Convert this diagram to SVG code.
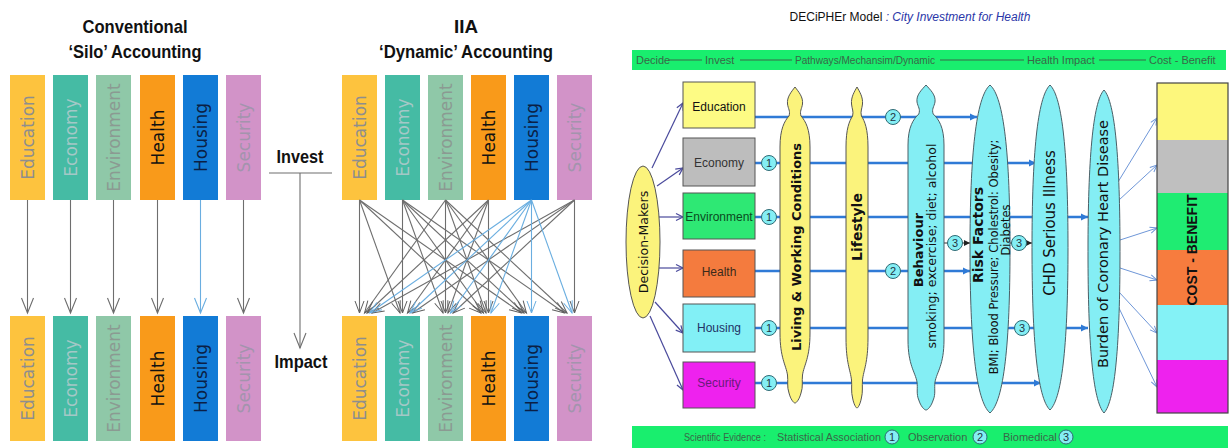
<svg xmlns="http://www.w3.org/2000/svg" width="1230" height="448" viewBox="0 0 1230 448">
  <style>
    .ttl { font-family: "Liberation Sans", Arial, sans-serif; font-weight: bold; font-size: 19px; fill: #111; }
    .bar-t { font-family: "DejaVu Sans", sans-serif; font-size: 17px; }
    .arrow-g { stroke: #6e6e6e; stroke-width: 1.1; fill: none; }
    .arrow-b { stroke: #6aaee0; stroke-width: 1.1; fill: none; }
    .hdr { font-family: "Liberation Sans", Arial, sans-serif; font-size: 11px; fill: #3a6648; }
    .box { stroke: #555; stroke-width: 1; }
    .box-t { font-family: "Liberation Sans", Arial, sans-serif; font-size: 12px; }
    .yel { fill: #fbf37c; stroke: #555; stroke-width: 1; }
    .cya { fill: #84eef4; stroke: #4a5f66; stroke-width: 1; }
    .sp-b { font-family: "DejaVu Sans", sans-serif; font-weight: bold; fill: #111; }
    .sp-r { font-family: "DejaVu Sans", sans-serif; fill: #111; }
    .row { stroke: #2f7ad6; stroke-width: 2.5; fill: none; }
    .dm { stroke: #4a4a9c; stroke-width: 1.2; fill: none; }
    .cb { stroke: #6f97d8; stroke-width: 1; fill: none; }
    .num circle { fill: #84eef4; stroke: #2e6a74; stroke-width: 1; }
    .num text { font-family: "Liberation Sans", Arial, sans-serif; font-size: 11px; fill: #234; text-anchor: middle; dominant-baseline: central; }
  </style>
  <defs>
    <marker id="chev" markerUnits="userSpaceOnUse" orient="auto" refX="0" refY="0" markerWidth="20" markerHeight="20" overflow="visible">
      <path d="M-15,-6 L0,0 L-15,6" fill="none" stroke="#6e6e6e" stroke-width="1.1"/>
    </marker>
    <marker id="chev-b" markerUnits="userSpaceOnUse" orient="auto" refX="0" refY="0" markerWidth="20" markerHeight="20" overflow="visible">
      <path d="M-15,-6 L0,0 L-15,6" fill="none" stroke="#6aaee0" stroke-width="1.1"/>
    </marker>
    <marker id="chev-s" markerUnits="userSpaceOnUse" orient="auto" refX="0" refY="0" markerWidth="20" markerHeight="20" overflow="visible">
      <path d="M-12,-4.5 L0,0 L-12,4.5" fill="none" stroke="#5e5e5e" stroke-width="1"/>
    </marker>
    <marker id="chev-sb" markerUnits="userSpaceOnUse" orient="auto" refX="0" refY="0" markerWidth="20" markerHeight="20" overflow="visible">
      <path d="M-12,-4.5 L0,0 L-12,4.5" fill="none" stroke="#6aaee0" stroke-width="1"/>
    </marker>
    <marker id="tri-blue" markerUnits="userSpaceOnUse" orient="auto" refX="0" refY="0" markerWidth="12" markerHeight="12" overflow="visible">
      <path d="M-7,-3.5 L0,0 L-7,3.5 Z" fill="#2f7ad6"/>
    </marker>
    <marker id="tri-dark" markerUnits="userSpaceOnUse" orient="auto" refX="0" refY="0" markerWidth="12" markerHeight="12" overflow="visible">
      <path d="M-6,-3 L0,0 L-6,3 Z" fill="#222"/>
    </marker>
    <marker id="tri-navy" markerUnits="userSpaceOnUse" orient="auto" refX="0" refY="0" markerWidth="12" markerHeight="12" overflow="visible">
      <path d="M-7,-3.5 L0,0 L-7,3.5" fill="none" stroke="#4a4a9c" stroke-width="1.2"/>
    </marker>
    <marker id="tri-lb" markerUnits="userSpaceOnUse" orient="auto" refX="0" refY="0" markerWidth="12" markerHeight="12" overflow="visible">
      <path d="M-7,-3 L0,0 L-7,3" fill="none" stroke="#6f97d8" stroke-width="1"/>
    </marker>
  </defs>

  <rect width="1230" height="448" fill="#ffffff"/>

  <!-- ===== Left: silo vs dynamic accounting ===== -->
  <g id="titles-left">
    <text class="ttl" x="135" y="33" text-anchor="middle" textLength="105" lengthAdjust="spacingAndGlyphs">Conventional</text>
    <text class="ttl" x="135" y="58" text-anchor="middle" textLength="133" lengthAdjust="spacingAndGlyphs">‘Silo’ Accounting</text>
    <text class="ttl" x="466" y="33" text-anchor="middle" textLength="24" lengthAdjust="spacingAndGlyphs">IIA</text>
    <text class="ttl" x="466" y="58" text-anchor="middle" textLength="174" lengthAdjust="spacingAndGlyphs">‘Dynamic’ Accounting</text>
  </g>

  <!-- sector bars: conventional, invest row -->
  <g id="silo-invest">
    <rect x="10" y="75" width="35" height="125" fill="#fdc33e"/>
    <text class="bar-t" transform="translate(27.5,137.5) rotate(-90)" text-anchor="middle" dominant-baseline="central" fill="#8e8e8e">Education</text>
    <rect x="53" y="75" width="35" height="125" fill="#45bba4"/>
    <text class="bar-t" transform="translate(70.5,137.5) rotate(-90)" text-anchor="middle" dominant-baseline="central" fill="#a3c8c6">Economy</text>
    <rect x="96" y="75" width="35" height="125" fill="#8fc8a8"/>
    <text class="bar-t" transform="translate(113.5,137.5) rotate(-90)" text-anchor="middle" dominant-baseline="central" fill="#8b9a92">Environment</text>
    <rect x="140" y="75" width="35" height="125" fill="#f99a1a"/>
    <text class="bar-t" transform="translate(157.5,137.5) rotate(-90)" text-anchor="middle" dominant-baseline="central" fill="#111">Health</text>
    <rect x="183" y="75" width="35" height="125" fill="#127bd6"/>
    <text class="bar-t" transform="translate(200.5,137.5) rotate(-90)" text-anchor="middle" dominant-baseline="central" fill="#0b1f45">Housing</text>
    <rect x="226" y="75" width="35" height="125" fill="#d293c8"/>
    <text class="bar-t" transform="translate(243.5,137.5) rotate(-90)" text-anchor="middle" dominant-baseline="central" fill="#a394ad">Security</text>
  </g>

  <g id="silo-impact">
    <rect x="10" y="316" width="35" height="125" fill="#fdc33e"/>
    <text class="bar-t" transform="translate(27.5,378.5) rotate(-90)" text-anchor="middle" dominant-baseline="central" fill="#8e8e8e">Education</text>
    <rect x="53" y="316" width="35" height="125" fill="#45bba4"/>
    <text class="bar-t" transform="translate(70.5,378.5) rotate(-90)" text-anchor="middle" dominant-baseline="central" fill="#a3c8c6">Economy</text>
    <rect x="96" y="316" width="35" height="125" fill="#8fc8a8"/>
    <text class="bar-t" transform="translate(113.5,378.5) rotate(-90)" text-anchor="middle" dominant-baseline="central" fill="#8b9a92">Environment</text>
    <rect x="140" y="316" width="35" height="125" fill="#f99a1a"/>
    <text class="bar-t" transform="translate(157.5,378.5) rotate(-90)" text-anchor="middle" dominant-baseline="central" fill="#111">Health</text>
    <rect x="183" y="316" width="35" height="125" fill="#127bd6"/>
    <text class="bar-t" transform="translate(200.5,378.5) rotate(-90)" text-anchor="middle" dominant-baseline="central" fill="#0b1f45">Housing</text>
    <rect x="226" y="316" width="35" height="125" fill="#d293c8"/>
    <text class="bar-t" transform="translate(243.5,378.5) rotate(-90)" text-anchor="middle" dominant-baseline="central" fill="#a394ad">Security</text>
  </g>

  <g id="dynamic-invest">
    <rect x="342" y="75" width="35" height="125" fill="#fdc33e"/>
    <text class="bar-t" transform="translate(359.5,137.5) rotate(-90)" text-anchor="middle" dominant-baseline="central" fill="#8e8e8e">Education</text>
    <rect x="385" y="75" width="35" height="125" fill="#45bba4"/>
    <text class="bar-t" transform="translate(402.5,137.5) rotate(-90)" text-anchor="middle" dominant-baseline="central" fill="#a3c8c6">Economy</text>
    <rect x="428" y="75" width="35" height="125" fill="#8fc8a8"/>
    <text class="bar-t" transform="translate(445.5,137.5) rotate(-90)" text-anchor="middle" dominant-baseline="central" fill="#8b9a92">Environment</text>
    <rect x="471" y="75" width="35" height="125" fill="#f99a1a"/>
    <text class="bar-t" transform="translate(488.5,137.5) rotate(-90)" text-anchor="middle" dominant-baseline="central" fill="#111">Health</text>
    <rect x="514" y="75" width="35" height="125" fill="#127bd6"/>
    <text class="bar-t" transform="translate(531.5,137.5) rotate(-90)" text-anchor="middle" dominant-baseline="central" fill="#0b1f45">Housing</text>
    <rect x="557" y="75" width="35" height="125" fill="#d293c8"/>
    <text class="bar-t" transform="translate(574.5,137.5) rotate(-90)" text-anchor="middle" dominant-baseline="central" fill="#a394ad">Security</text>
  </g>

  <g id="dynamic-impact">
    <rect x="342" y="316" width="35" height="125" fill="#fdc33e"/>
    <text class="bar-t" transform="translate(359.5,378.5) rotate(-90)" text-anchor="middle" dominant-baseline="central" fill="#8e8e8e">Education</text>
    <rect x="385" y="316" width="35" height="125" fill="#45bba4"/>
    <text class="bar-t" transform="translate(402.5,378.5) rotate(-90)" text-anchor="middle" dominant-baseline="central" fill="#a3c8c6">Economy</text>
    <rect x="428" y="316" width="35" height="125" fill="#8fc8a8"/>
    <text class="bar-t" transform="translate(445.5,378.5) rotate(-90)" text-anchor="middle" dominant-baseline="central" fill="#8b9a92">Environment</text>
    <rect x="471" y="316" width="35" height="125" fill="#f99a1a"/>
    <text class="bar-t" transform="translate(488.5,378.5) rotate(-90)" text-anchor="middle" dominant-baseline="central" fill="#111">Health</text>
    <rect x="514" y="316" width="35" height="125" fill="#127bd6"/>
    <text class="bar-t" transform="translate(531.5,378.5) rotate(-90)" text-anchor="middle" dominant-baseline="central" fill="#0b1f45">Housing</text>
    <rect x="557" y="316" width="35" height="125" fill="#d293c8"/>
    <text class="bar-t" transform="translate(574.5,378.5) rotate(-90)" text-anchor="middle" dominant-baseline="central" fill="#a394ad">Security</text>
  </g>

  <g id="invest-impact">
    <text class="ttl" x="300" y="163" text-anchor="middle" textLength="47" lengthAdjust="spacingAndGlyphs">Invest</text>
    <text class="ttl" x="301" y="368" text-anchor="middle" textLength="53" lengthAdjust="spacingAndGlyphs">Impact</text>
  </g>

  <!-- connectors of the left panel -->
  <g id="connectors-left">
    <line class="arrow-g" x1="269" y1="173" x2="332" y2="173"/>
    <line class="arrow-g" x1="300" y1="173" x2="300" y2="348" marker-end="url(#chev)"/>
    <!-- silo: one arrow per sector -->
    <line class="arrow-g" x1="27.5" y1="200" x2="27.5" y2="313" marker-end="url(#chev)"/>
    <line class="arrow-g" x1="70.5" y1="200" x2="70.5" y2="313" marker-end="url(#chev)"/>
    <line class="arrow-g" x1="113.5" y1="200" x2="113.5" y2="313" marker-end="url(#chev)"/>
    <line class="arrow-g" x1="157.5" y1="200" x2="157.5" y2="313" marker-end="url(#chev)"/>
    <line class="arrow-b" x1="200.5" y1="200" x2="200.5" y2="313" marker-end="url(#chev-b)"/>
    <line class="arrow-g" x1="243.5" y1="200" x2="243.5" y2="313" marker-end="url(#chev)"/>
    <!-- dynamic: cross-sector effects -->
    <g class="arrow-g" marker-end="url(#chev-s)">
      <line x1="359.5" y1="200" x2="359.5" y2="313"/>
      <line x1="359.5" y1="200" x2="400" y2="313"/>
      <line x1="359.5" y1="200" x2="481" y2="313"/>
      <line x1="359.5" y1="200" x2="521.5" y2="313"/>
      <line x1="402.5" y1="200" x2="402.5" y2="313"/>
      <line x1="402.5" y1="200" x2="443" y2="313"/>
      <line x1="402.5" y1="200" x2="483.5" y2="313"/>
      <line x1="402.5" y1="200" x2="524" y2="313"/>
      <line x1="402.5" y1="200" x2="564.5" y2="313"/>
      <line x1="445.5" y1="200" x2="445.5" y2="313"/>
      <line x1="445.5" y1="200" x2="364.5" y2="313"/>
      <line x1="445.5" y1="200" x2="486" y2="313"/>
      <line x1="445.5" y1="200" x2="526.5" y2="313"/>
      <line x1="445.5" y1="200" x2="567" y2="313"/>
      <line x1="488.5" y1="200" x2="488.5" y2="313"/>
      <line x1="488.5" y1="200" x2="367" y2="313"/>
      <line x1="488.5" y1="200" x2="407.5" y2="313"/>
      <line x1="488.5" y1="200" x2="448" y2="313"/>
      <line x1="574.5" y1="200" x2="574.5" y2="313"/>
      <line x1="574.5" y1="200" x2="372" y2="313"/>
      <line x1="574.5" y1="200" x2="412.5" y2="313"/>
      <line x1="574.5" y1="200" x2="453" y2="313"/>
    </g>
    <g class="arrow-b" marker-end="url(#chev-sb)">
      <line x1="531.5" y1="200" x2="531.5" y2="313"/>
      <line x1="531.5" y1="200" x2="369.5" y2="313"/>
      <line x1="531.5" y1="200" x2="410" y2="313"/>
      <line x1="531.5" y1="200" x2="450.5" y2="313"/>
      <line x1="531.5" y1="200" x2="491" y2="313"/>
      <line x1="531.5" y1="200" x2="572" y2="313"/>
    </g>
  </g>

  <!-- ===== Right: DECiPHEr model ===== -->
  <g id="model-title">
    <text x="910" y="21" text-anchor="middle" font-family="Liberation Sans, Arial, sans-serif" font-size="12"><tspan fill="#111">DECiPHEr Model </tspan><tspan fill="#2a36a8" font-style="italic">: City Investment for Health</tspan></text>
  </g>

  <g id="header-bar">
    <rect x="632" y="50" width="594" height="20" fill="#19ee6e"/>
    <text class="hdr" x="636" y="64">Decide</text>
    <line x1="669" y1="60" x2="702" y2="60" stroke="#3a6648" stroke-width="1"/>
    <text class="hdr" x="705" y="64">Invest</text>
    <line x1="740" y1="60" x2="792" y2="60" stroke="#3a6648" stroke-width="1"/>
    <text class="hdr" x="795" y="64" textLength="140" lengthAdjust="spacingAndGlyphs">Pathways/Mechansim/Dynamic</text>
    <line x1="940" y1="60" x2="1024" y2="60" stroke="#3a6648" stroke-width="1"/>
    <text class="hdr" x="1027" y="64">Health Impact</text>
    <line x1="1099" y1="60" x2="1146" y2="60" stroke="#3a6648" stroke-width="1"/>
    <text class="hdr" x="1149" y="64">Cost - Benefit</text>
  </g>

  <!-- pathways: row arrows drawn beneath the spindles -->
  <g id="connectors-right">
    <line class="row" x1="755" y1="117" x2="977" y2="117" marker-end="url(#tri-blue)"/>
    <line class="row" x1="755" y1="163" x2="1036" y2="163" marker-end="url(#tri-blue)"/>
    <line class="row" x1="755" y1="217" x2="1088" y2="217" marker-end="url(#tri-blue)"/>
    <line class="row" x1="755" y1="271" x2="970" y2="271" marker-end="url(#tri-blue)"/>
    <line class="row" x1="755" y1="328" x2="1088" y2="328" marker-end="url(#tri-blue)"/>
    <line class="row" x1="755" y1="383" x2="1041" y2="383" marker-end="url(#tri-blue)"/>
    <line x1="944" y1="243" x2="970" y2="243" stroke="#333" stroke-width="1" marker-end="url(#tri-dark)"/>
    <line x1="1009" y1="243" x2="1032" y2="243" stroke="#333" stroke-width="1" marker-end="url(#tri-dark)"/>
    <!-- decision-makers to sectors -->
    <line class="dm" x1="652" y1="168" x2="683" y2="103" marker-end="url(#tri-navy)"/>
    <line class="dm" x1="657" y1="186" x2="683" y2="168" marker-end="url(#tri-navy)"/>
    <line class="dm" x1="659" y1="217" x2="683" y2="217" marker-end="url(#tri-navy)"/>
    <line class="dm" x1="659" y1="268" x2="683" y2="268" marker-end="url(#tri-navy)"/>
    <line class="dm" x1="655" y1="302" x2="683" y2="333" marker-end="url(#tri-navy)"/>
    <line class="dm" x1="650" y1="316" x2="683" y2="390" marker-end="url(#tri-navy)"/>
    <!-- burden to cost-benefit -->
    <line class="cb" x1="1118" y1="182" x2="1157" y2="118" marker-end="url(#tri-lb)"/>
    <line class="cb" x1="1119" y1="200" x2="1157" y2="165" marker-end="url(#tri-lb)"/>
    <line class="cb" x1="1120" y1="240" x2="1157" y2="228" marker-end="url(#tri-lb)"/>
    <line class="cb" x1="1120" y1="268" x2="1157" y2="280" marker-end="url(#tri-lb)"/>
    <line class="cb" x1="1119" y1="292" x2="1157" y2="333" marker-end="url(#tri-lb)"/>
    <line class="cb" x1="1118" y1="306" x2="1157" y2="387" marker-end="url(#tri-lb)"/>
  </g>

  <g id="decision-makers">
    <ellipse cx="643" cy="242" rx="17" ry="76" class="yel"/>
    <text class="sp-r" font-size="12.5" transform="translate(643,242) rotate(-90)" text-anchor="middle" dominant-baseline="central">Decision-Makers</text>
  </g>

  <g id="sector-education">
    <rect class="box" x="683" y="82" width="72" height="46" fill="#fdfb84"/>
    <text class="box-t" x="719" y="111" text-anchor="middle" fill="#111">Education</text>
  </g>
  <g id="sector-economy">
    <rect class="box" x="683" y="138" width="72" height="48" fill="#bdbdbd"/>
    <text class="box-t" x="719" y="167" text-anchor="middle" fill="#333">Economy</text>
  </g>
  <g id="sector-environment">
    <rect class="box" x="683" y="193" width="72" height="46" fill="#2ee874"/>
    <text class="box-t" x="719" y="221" text-anchor="middle" fill="#0a4a20">Environment</text>
  </g>
  <g id="sector-health">
    <rect class="box" x="683" y="250" width="72" height="47" fill="#f47b3e"/>
    <text class="box-t" x="719" y="276" text-anchor="middle" fill="#3a2a1a">Health</text>
  </g>
  <g id="sector-housing">
    <rect class="box" x="683" y="304" width="72" height="48" fill="#82f0f6"/>
    <text class="box-t" x="719" y="332" text-anchor="middle" fill="#223366">Housing</text>
  </g>
  <g id="sector-security">
    <rect class="box" x="683" y="362" width="72" height="46" fill="#ee22ee"/>
    <text class="box-t" x="719" y="387" text-anchor="middle" fill="#6a1a7a">Security</text>
  </g>

  <g id="living-working">
    <path class="yel" d="M795,87 C798.75,92 803.25,97 802.5,104 C801.75,109 799.5,111 801,116 C805.5,121 810,129 810,147 L810,333 C810,358 804,365 802.5,375 C801.75,381 803.25,387 801,393 C799.5,399 796.5,403 795,403 C793.5,403 790.5,399 789,393 C786.75,387 788.25,381 787.5,375 C786,365 780,358 780,333 L780,147 C780,129 784.5,121 789,116 C790.5,111 788.25,109 787.5,104 C786.75,97 791.25,92 795,87Z"/>
    <text class="sp-b" font-size="13" transform="translate(796,247) rotate(-90)" text-anchor="middle" dominant-baseline="central">Living &amp; Working Conditions</text>
  </g>

  <g id="lifestyle">
    <path class="yel" d="M857,87 C859.75,92 863.05,97 862.5,104 C861.95,109 860.3,111 861.4,116 C864.7,121 868,129 868,147 L868,338 C868,363 863.6,370 862.5,380 C861.95,386 863.050,392 861.4,398 C860.3,404 858.1,408 857,408 C855.9,408 853.7,404 852.6,398 C850.95,392 852.05,386 851.5,380 C850.4,370 846,363 846,338 L846,147 C846,129 849.3,121 852.6,116 C853.7,111 852.05,109 851.5,104 C850.95,97 854.25,92 857,87Z"/>
    <text class="sp-b" font-size="14" transform="translate(857,227) rotate(-90)" text-anchor="middle" dominant-baseline="central">Lifestyle</text>
  </g>

  <g id="behaviour">
    <path class="cya" d="M926,85 C930.5,90 935.9,95 935,102 C934.1,107 931.4,109 933.2,114 C938.6,119 944,127 944,145 L944,340 C944,365 936.8,372 935,382 C934.1,388 935.9,394 933.2,400 C931.4,406 927.8,410 926,410 C924.2,410 920.6,406 918.8,400 C916.1,394 917.9,388 917,382 C915.2,372 908,365 908,340 L908,145 C908,127 913.4,119 918.8,114 C920.6,109 917.9,107 917,102 C916.1,95 921.5,90 926,85Z"/>
    <text class="sp-b" font-size="13" transform="translate(918,250) rotate(-90)" text-anchor="middle" dominant-baseline="central">Behaviour</text>
    <text class="sp-r" font-size="12.5" transform="translate(931,246) rotate(-90)" text-anchor="middle" dominant-baseline="central">smoking; excercise; diet; alcohol</text>
  </g>

  <g id="risk-factors">
    <path class="cya" d="M990,85 C1004,97 1010,155 1010,249 C1010,343 1004,401 990,413 C976,401 970,343 970,249 C970,155 976,97 990,85Z"/>
    <text class="sp-b" font-size="14" transform="translate(978,235) rotate(-90)" text-anchor="middle" dominant-baseline="central">Risk Factors</text>
    <text class="sp-r" font-size="11.5" transform="translate(994,257) rotate(-90)" text-anchor="middle" dominant-baseline="central">BMI; Blood Pressure; Cholestrol: Obesity;</text>
    <text class="sp-r" font-size="11.5" transform="translate(1006,230) rotate(-90)" text-anchor="middle" dominant-baseline="central">Diabetes</text>
  </g>

  <g id="chd-illness">
    <path class="cya" d="M1050,85 C1062.6,97 1068,155 1068,247.5 C1068,340 1062.6,398 1050,410 C1037.4,398 1032,340 1032,247.5 C1032,155 1037.4,97 1050,85Z"/>
    <text class="sp-r" font-size="15" transform="translate(1050,223) rotate(-90)" text-anchor="middle" dominant-baseline="central">CHD Serious Illness</text>
  </g>

  <g id="burden-chd">
    <path class="cya" d="M1104,90 C1115.2,102 1120,160 1120,251.5 C1120,343 1115.2,401 1104,413 C1092.8,401 1088,343 1088,251.5 C1088,160 1092.8,102 1104,90Z"/>
    <text class="sp-r" font-size="14.5" transform="translate(1103,244) rotate(-90)" text-anchor="middle" dominant-baseline="central">Burden of Coronary Heart Disease</text>
  </g>

  <g id="cost-benefit">
    <rect x="1157" y="83" width="71" height="57" fill="#fdf77c"/>
    <rect x="1157" y="140" width="71" height="53" fill="#bfbfbf"/>
    <rect x="1157" y="193" width="71" height="57" fill="#1fec72"/>
    <rect x="1157" y="250" width="71" height="55" fill="#f77c3e"/>
    <rect x="1157" y="305" width="71" height="55" fill="#84f2f6"/>
    <rect x="1157" y="360" width="71" height="53" fill="#ee22ee"/>
    <rect x="1157" y="83" width="71" height="330" fill="none" stroke="#444" stroke-width="1.2"/>
    <text transform="translate(1192,250) rotate(-90)" text-anchor="middle" dominant-baseline="central" font-family="Liberation Sans, Arial, sans-serif" font-weight="bold" font-size="14" fill="#111">COST - BENEFIT</text>
  </g>

  <!-- evidence markers on the pathways -->
  <g id="evidence-markers" class="num">
    <circle cx="893" cy="117" r="7.5"/><text x="893" y="117">2</text>
    <circle cx="769" cy="163" r="7.5"/><text x="769" y="163">1</text>
    <circle cx="769" cy="217" r="7.5"/><text x="769" y="217">1</text>
    <circle cx="893" cy="271" r="7.5"/><text x="893" y="271">2</text>
    <circle cx="769" cy="328" r="7.5"/><text x="769" y="328">1</text>
    <circle cx="769" cy="383" r="7.5"/><text x="769" y="383">1</text>
    <circle cx="955" cy="243" r="7.5"/><text x="955" y="243">3</text>
    <circle cx="1019" cy="243" r="7.5"/><text x="1019" y="243">3</text>
    <circle cx="1022" cy="328" r="7.5"/><text x="1022" y="328">3</text>
  </g>

  <g id="evidence-legend">
    <rect x="632" y="426" width="596" height="22" fill="#19ee6e"/>
    <text class="hdr" x="684" y="441" textLength="82" lengthAdjust="spacingAndGlyphs">Scientific Evidence :</text>
    <text class="hdr" x="777" y="441" textLength="104" lengthAdjust="spacingAndGlyphs">Statistical Association</text>
    <text class="hdr" x="908" y="441">Observation</text>
    <text class="hdr" x="1003" y="441">Biomedical</text>
    <g class="num">
      <circle cx="892" cy="437" r="7"/><text x="892" y="437">1</text>
      <circle cx="980" cy="437" r="7"/><text x="980" y="437">2</text>
      <circle cx="1066" cy="437" r="7"/><text x="1066" y="437">3</text>
    </g>
  </g>
</svg>
